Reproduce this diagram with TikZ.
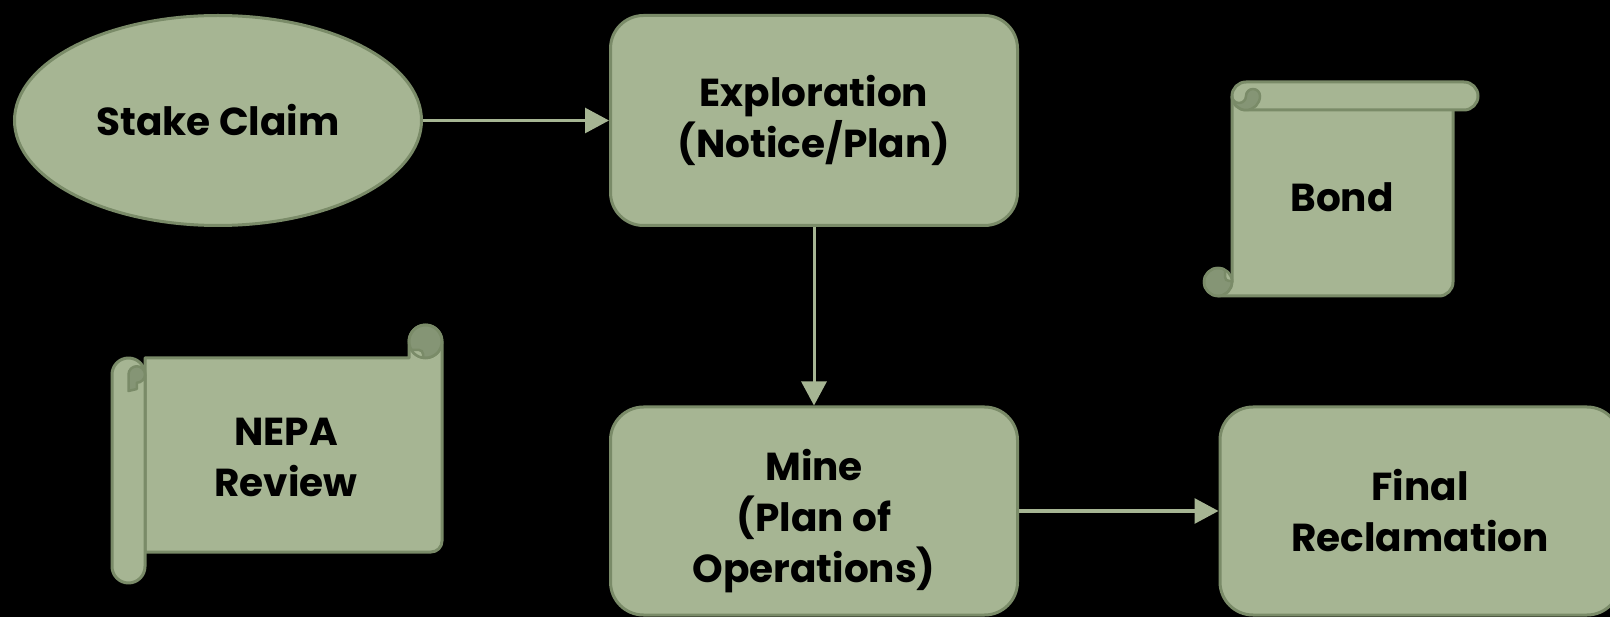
\documentclass[tikz,border=0pt]{standalone}
\usepackage{fontspec}
\setmainfont{Poppins}
\usetikzlibrary{shapes.geometric,arrows.meta}
\definecolor{boxfill}{HTML}{A6B593}
\definecolor{boxline}{HTML}{7A8B68}
\definecolor{curlfill}{HTML}{859575}
\definecolor{arrowc}{HTML}{A6B593}
\tikzset{
  boxtext/.style={font=\bfseries\fontsize{39}{51}\selectfont, align=center, text=black},
  shapebox/.style={boxtext, fill=boxfill, draw=boxline, line width=3pt, inner sep=0pt},
  roundbox/.style={shapebox, rectangle, rounded corners=33pt},
  oval/.style={shapebox, ellipse},
  flow/.style={draw=arrowc, line width=3pt, -{Triangle[length=24pt,width=25pt]}},
  scrollpart/.style={fill=boxfill, draw=boxline, line width=3pt, line join=round},
  curlpart/.style={fill=curlfill, draw=boxline, line width=2.5pt, line join=round},
  notchpart/.style={fill=boxfill, draw=boxline, line width=2.5pt},
}
\begin{document}
\begin{tikzpicture}[x=1pt,y=1pt,yscale=-1]
\useasboundingbox (0,0) rectangle (1610,617);
\fill[black] (0,0) rectangle (1610,617);

% flow nodes
\node[oval, minimum width=407pt, minimum height=210pt] (stake) at (218,120.5) {Stake Claim};
\node[roundbox, minimum width=407pt, minimum height=210pt] (explo) at (814,120.5) {Exploration\\(Notice/Plan)};
\node[roundbox, minimum width=407pt, minimum height=208pt] (mine) at (814,511)
  {\raisebox{-17pt}[0pt][0pt]{\begin{tabular}{@{}c@{}}Mine\\(Plan of\\Operations)\end{tabular}}};
\node[roundbox, minimum width=400pt, minimum height=208pt] (final) at (1420,511) {Final\\Reclamation};

\draw[flow] (stake) -- (explo);
\draw[flow] (explo) -- (mine);
\draw[flow] (mine) -- (final);

% Bond: vertical scroll
\filldraw[scrollpart] (1232,96) -- (1232,282) -- (1218,296) -- (1439,296)
  arc[start angle=90,end angle=0,radius=14] -- (1453,96) -- cycle;
\filldraw[curlpart] (1218,282) circle (14);
\begin{scope}
  \clip (1218,282) circle (14);
  \filldraw[notchpart] (1225,255) -- (1225,277) arc[start angle=180,end angle=90,radius=4] -- (1245,281) -- (1245,255) -- cycle;
\end{scope}
\draw[boxline, line width=2.5pt] (1218,282) circle (14);
\filldraw[scrollpart, rounded corners=14pt] (1232,82) rectangle (1478,110);
\filldraw[curlpart] (1232,96) arc[start angle=180,end angle=0,radius=14]
  arc[start angle=0,end angle=-180,radius=7]
  arc[start angle=0,end angle=180,radius=7];
\node[boxtext] (bond) at (1342,197) {Bond};

% NEPA Review: horizontal scroll
\filldraw[scrollpart] (145,358) -- (409,358) -- (409,341.5)
  arc[start angle=180,end angle=360,radius=16.5] -- (442,541)
  arc[start angle=0,end angle=90,radius=11] -- (145,552) -- cycle;
\filldraw[curlpart] (425.5,341.5) circle (16.5);
\begin{scope}
  \clip (425.5,341.5) circle (16.5);
  \filldraw[notchpart] (400,350) -- (419,350) arc[start angle=-90,end angle=0,radius=4] -- (423,370) -- (400,370) -- cycle;
\end{scope}
\draw[boxline, line width=2.5pt] (425.5,341.5) circle (16.5);
\filldraw[scrollpart, rounded corners=16.5pt] (112,358) rectangle (145,583);
\filldraw[curlpart] (128.5,374.5) arc[start angle=180,end angle=360,radius=8.25]
  arc[start angle=0,end angle=90,radius=8.25] -- (136.75,389) -- (128.5,391) -- cycle;
\node[boxtext] (nepa) at (286,457) {NEPA\\Review};
\end{tikzpicture}
\end{document}
